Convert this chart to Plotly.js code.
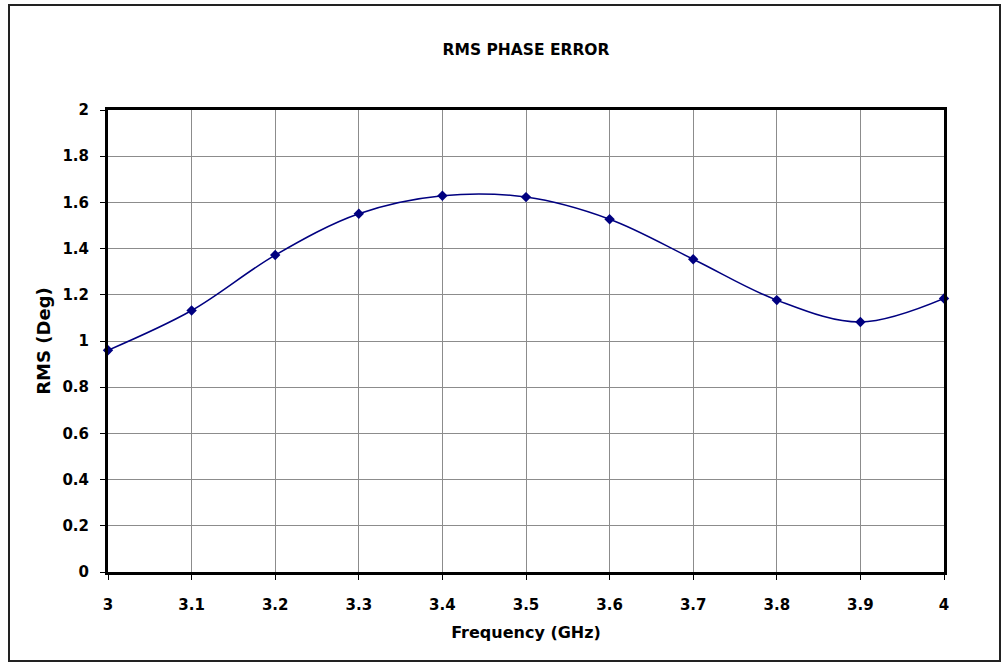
<!DOCTYPE html>
<html>
<head>
<meta charset="utf-8">
<script src="https://cdn.plot.ly/plotly-3.0.1.min.js"></script>
<style>html,body{margin:0;padding:0;background:#fff;}#chart{width:1007px;height:667px;}</style>
</head>
<body>
<div id="chart"></div>
<script>
const frequency = [3.0, 3.1, 3.2, 3.3, 3.4, 3.5, 3.6, 3.7, 3.8, 3.9, 4.0];
const rmsDeg = [0.960, 1.132, 1.372, 1.551, 1.629, 1.623, 1.527, 1.354, 1.177, 1.082, 1.184];

const W = 1007, H = 667;
const M = {l: 108, r: 63, t: 110, b: 95};
const pw = W - M.l - M.r, ph = H - M.t - M.b;
const px = x => (x - M.l) / pw;
const py = y => (H - M.b - y) / ph;

const wide = 'DejaVu Sans, Arial, sans-serif';

const trace = {
  x: frequency,
  y: rmsDeg,
  type: 'scatter',
  mode: 'lines+markers',
  line: {color: '#000080', width: 1.5, shape: 'spline', smoothing: 1},
  marker: {symbol: 'diamond', size: 8, color: '#000080'},
  cliponaxis: false,
  showlegend: false
};

const layout = {
  width: W, height: H,
  margin: M,
  paper_bgcolor: '#fff',
  plot_bgcolor: '#fff',
  title: {
    text: '<b>RMS PHASE ERROR</b>',
    font: {family: wide, size: 15.5, color: '#000'},
    x: 0.5, xref: 'paper', xanchor: 'center',
    y: 1 - 50 / H, yref: 'container', yanchor: 'middle'
  },
  xaxis: {
    range: [3, 4],
    dtick: 0.1, tick0: 3,
    showgrid: true, gridcolor: '#8c8c8c', gridwidth: 1,
    zeroline: false,
    showline: true, linecolor: '#000', linewidth: 3, mirror: true,
    ticks: 'outside', ticklen: 5, tickcolor: '#000', tickwidth: 1,
    ticklabelstandoff: 12,
    tickfont: {family: wide, size: 15, color: '#000', weight: 'bold'},
    title: {text: '<b>Frequency (GHz)</b>', font: {family: wide, size: 16, color: '#000'}, standoff: 14}
  },
  yaxis: {
    range: [0, 2],
    dtick: 0.2, tick0: 0,
    showgrid: true, gridcolor: '#8c8c8c', gridwidth: 1,
    zeroline: false,
    showline: true, linecolor: '#000', linewidth: 3, mirror: true,
    ticks: 'outside', ticklen: 5, tickcolor: '#000', tickwidth: 1,
    ticklabelstandoff: 8,
    tickfont: {family: wide, size: 15, color: '#000', weight: 'bold'},
    title: {text: '<b>RMS (Deg)</b>', font: {family: wide, size: 18, color: '#000'}, standoff: 8}
  },
  shapes: [{
    type: 'rect', xref: 'paper', yref: 'paper',
    x0: px(9), x1: px(1000), y0: py(661), y1: py(5),
    line: {color: '#222', width: 2}, fillcolor: 'rgba(0,0,0,0)', layer: 'below'
  }]
};

Plotly.newPlot('chart', [trace], layout, {displayModeBar: false, staticPlot: true});
</script>
</body>
</html>
